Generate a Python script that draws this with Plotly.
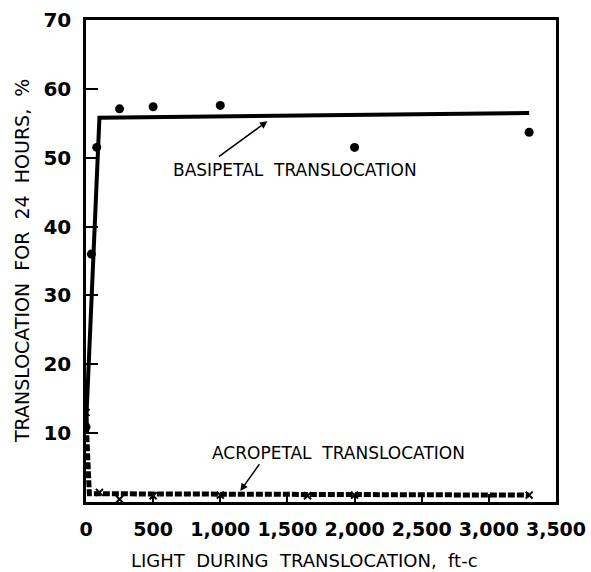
import plotly.graph_objects as go

# ---- data ----
light_basi = [0, 40, 80, 250, 500, 1000, 2000, 3300]
basi_pct = [10.9, 36.0, 51.5, 57.1, 57.4, 57.6, 51.5, 53.7]
basi_fit_x = [0, 100, 3300]
basi_fit_y = [11.0, 55.8, 56.5]

light_acro = [0, 100, 250, 500, 1000, 1650, 2000, 3300]
acro_pct = [13.0, 1.4, 0.4, 0.9, 1.0, 0.9, 1.0, 1.0]
acro_fit_x = [0, 25, 3300]
acro_fit_y = [12.3, 1.2, 1.0]

x_ticks = [0, 500, 1000, 1500, 2000, 2500, 3000, 3500]
x_tick_text = ["0", "500", "1,000", "1,500", "2,000", "2,500", "3,000", "3,500"]
y_ticks = [10, 20, 30, 40, 50, 60, 70]

FONT = "DejaVu Sans"

fig = go.Figure()

# acropetal fitted line (hatched look)
fig.add_trace(go.Scatter(x=acro_fit_x, y=acro_fit_y, mode="lines",
                         line=dict(color="black", width=5, dash="7px,2px"),
                         showlegend=False, hoverinfo="skip"))
fig.add_trace(go.Scatter(x=light_acro, y=acro_pct, mode="markers",
                         marker=dict(symbol="x-thin", size=7, color="black",
                                     line=dict(color="black", width=2)),
                         showlegend=False))

# basipetal fitted line
fig.add_trace(go.Scatter(x=basi_fit_x, y=basi_fit_y, mode="lines",
                         line=dict(color="black", width=4),
                         showlegend=False, hoverinfo="skip"))
fig.add_trace(go.Scatter(x=light_basi, y=basi_pct, mode="markers",
                         marker=dict(symbol="circle", size=9, color="black"),
                         showlegend=False))

fig.add_annotation(x=1351, y=55.3, ax=978, ay=50.0, axref="x", ayref="y",
                   text="", showarrow=True, arrowhead=2, arrowsize=1,
                   arrowwidth=1.5, arrowcolor="black")
fig.add_annotation(x=1560, y=48.2, text="BASIPETAL  TRANSLOCATION", showarrow=False,
                   font=dict(family=FONT, size=17, color="black"))

fig.add_annotation(x=1149, y=1.6, ax=1299, ay=5.7, axref="x", ayref="y",
                   text="", showarrow=True, arrowhead=2, arrowsize=1,
                   arrowwidth=1.5, arrowcolor="black")
fig.add_annotation(x=1881, y=7.1, text="ACROPETAL  TRANSLOCATION", showarrow=False,
                   font=dict(family=FONT, size=17, color="black"))

# axis titles
fig.add_annotation(xref="paper", yref="paper", x=0.464, y=0, yshift=-58,
                   xanchor="center", yanchor="middle",
                   text="LIGHT  DURING  TRANSLOCATION,  ft-c", showarrow=False,
                   font=dict(family=FONT, size=18, color="black"))
fig.add_annotation(xref="paper", yref="paper", x=-0.136, y=0.5, textangle=-90,
                   xanchor="center", yanchor="middle",
                   text="TRANSLOCATION  FOR  24  HOURS,  %", showarrow=False,
                   font=dict(family=FONT, size=19, color="black"))

fig.update_layout(
    width=591, height=572,
    margin=dict(l=86, r=35, t=20, b=70, autoexpand=False),
    paper_bgcolor="white", plot_bgcolor="white",
    font=dict(family=FONT, color="black"),
    xaxis=dict(range=[0, 3500], tickvals=x_ticks, ticktext=x_tick_text,
               ticks="inside", ticklen=8, tickwidth=1.5, tickcolor="black",
               showline=True, linecolor="black", linewidth=2.5, mirror=True,
               showgrid=False, zeroline=False, ticklabelstandoff=8,
               automargin=False,
               tickfont=dict(family=FONT, size=19, color="black", weight="bold")),
    yaxis=dict(range=[0, 70], tickvals=y_ticks,
               ticks="inside", ticklen=12, tickwidth=1.5, tickcolor="black",
               showline=True, linecolor="black", linewidth=2.5, mirror=True,
               showgrid=False, zeroline=False, ticklabelstandoff=8,
               automargin=False,
               tickfont=dict(family=FONT, size=20, color="black", weight="bold")),
)

fig.write_html("out.html")
